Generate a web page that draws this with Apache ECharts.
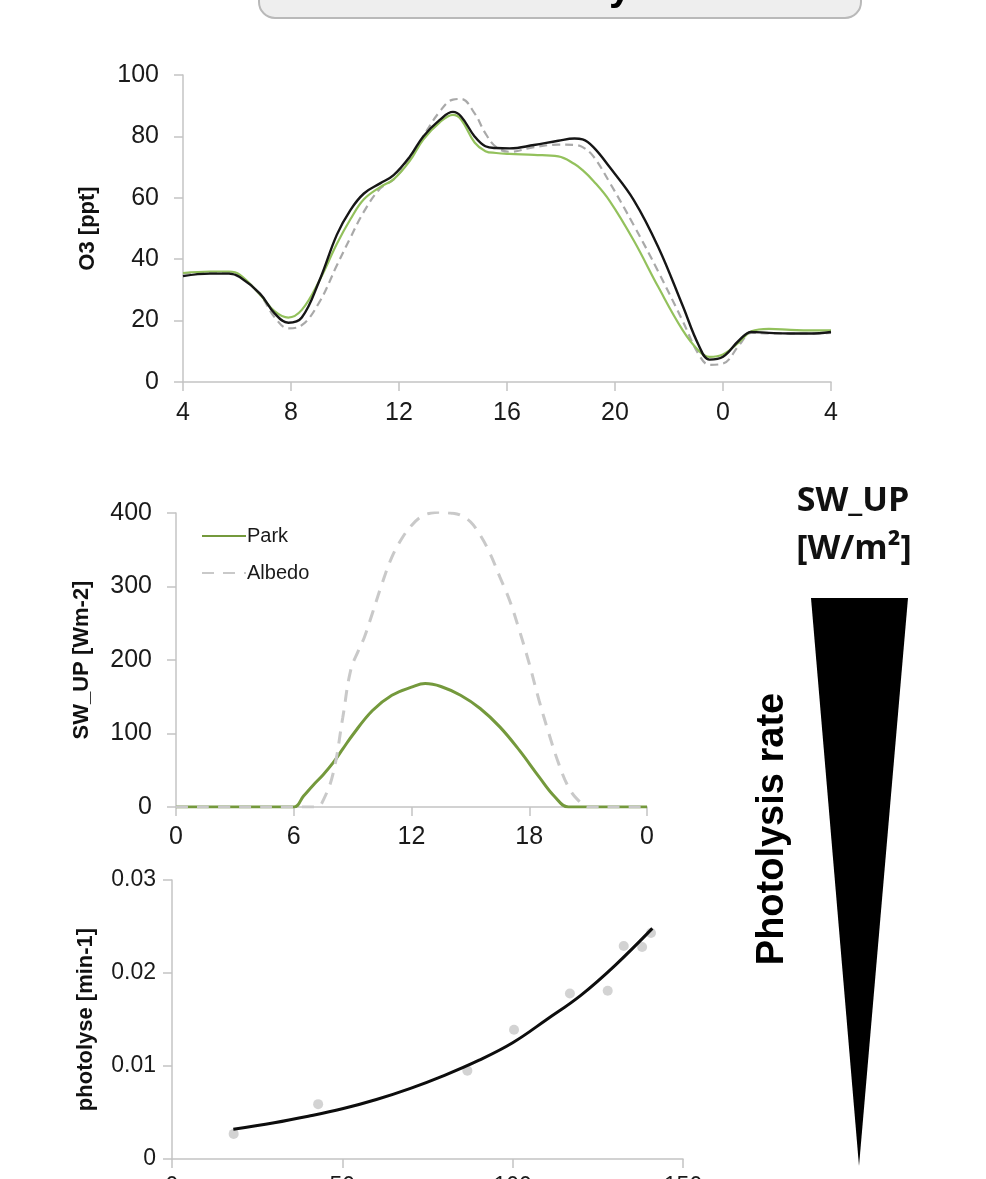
<!DOCTYPE html>
<html>
<head>
<meta charset="utf-8">
<style>
html,body{margin:0;padding:0;background:#fff;}
#chart{width:986px;height:1179px;}
</style>
<script src="https://cdn.jsdelivr.net/npm/echarts@6/dist/echarts.min.js"></script>
</head>
<body>
<div id="chart"></div>
<script>
// ---- Panel 1: O3 diurnal cycle (hours 4 .. 28 = 4 next day)
const o3Hours = [4,5,5.7,6.1,6.85,7.4,7.9,8.4,9.05,9.7,10.2,10.7,11.3,11.8,12.4,12.9,13.5,14.0,14.3,14.8,15.2,15.6,16.1,17.0,17.9,18.5,18.8,19.2,19.8,20.7,21.6,22.5,23.1,23.5,24.0,24.6,25.05,25.7,26.5,27.2,28];
const o3Black = [34.5,35.3,35.3,34.2,28.8,22.3,19.3,21,33,48,56,61.4,64.7,67.4,73.4,80,85.3,88,86.5,80,76.8,76.2,76.1,77.2,78.6,79.3,79,76.5,70,59.2,44,25,12,7.3,8.2,13.6,16.3,16,15.8,15.8,16.3];
const o3Green = [35.5,36,36,35,28.5,23,21,23.5,33,45,53,59.5,63.5,66,72,79,84.5,87,85.5,78,75.2,74.6,74.3,74,73.5,71,69,65.5,59,46,31,17,10.2,8.2,9,13,16.5,17.3,17,16.8,16.8];
const o3Gray  = [35.4,35.5,35.5,34.5,28.5,21,17.5,18.5,26,38,47,55.5,63,66,72.5,80,88,92,92.2,87.5,81,76.5,75,76.5,77.3,77.2,76.5,73.5,65,51,36,20,9,5.6,6,12,16,15.8,15.8,15.8,16];
const o3XTicks = [4,8,12,16,20,0,4];

// ---- Panel 2: SW_UP
const parkHours = [0,3,6,6.5,7,7.5,8,8.5,9,10,11,12,12.7,13.5,14.5,15.5,16.5,17.5,18.5,19.3,20,22,24];
const parkValues = [0,0,0,15,30,44,60,79,98,131,152,163,168,164,152,134,109,77,41,14,0,0,0];
const albedoHours = [0,3,6.5,7.2,7.5,8,8.5,8.9,9.3,9.6,10,10.5,11,11.5,12,12.5,13,13.5,14,14.5,15,15.5,16,16.5,17,17.5,18,18.5,19,19.5,20,20.5,21,22.5,24];
const albedoValues = [0,0,0,0,9,45,122,186,213,231,263,304,340,365,383,395,400,401,400,397,388,370,345,313,281,240,195,145,100,59,27,9,0,0,0];
const swXTicks = [0,6,12,18,0];

// ---- Panel 3: photolysis vs SW_UP
const photoX = [18.1,42.9,86.7,100.4,116.8,127.9,132.6,138.0,140.6];
const photoY = [0.0027,0.0059,0.0095,0.0139,0.0178,0.0181,0.0229,0.0228,0.0243];
const fitX = [18,30,40,50,60,70,80,90,100,110,120,130,141];
const fitY = [0.0032,0.0039,0.0046,0.0054,0.0064,0.0076,0.0090,0.0106,0.0125,0.0150,0.0176,0.0208,0.0248];

const pairs = (xs, ys) => xs.map((x, i) => [x, ys[i]]);

const AX = '#c4c4c4';
const FONT = 'Liberation Sans';
function xAxisCfg(gi, min, max, interval, fmt, fs, margin) {
  return {
    type: 'value', gridIndex: gi, min: min, max: max, interval: interval,
    axisLine: {show: true, onZero: false, lineStyle: {color: AX, width: 1.5}},
    axisTick: {show: true, length: 9, lineStyle: {color: AX, width: 1.5}},
    splitLine: {show: false},
    axisLabel: {fontFamily: FONT, fontSize: fs, color: '#1a1a1a', margin: margin, formatter: fmt}
  };
}
function yAxisCfg(gi, min, max, interval, name, gap, fs, margin, fmt) {
  return {
    type: 'value', gridIndex: gi, min: min, max: max, interval: interval,
    name: name, nameLocation: 'middle', nameRotate: 90, nameGap: gap,
    nameTextStyle: {fontFamily: FONT, fontWeight: 'bold', fontSize: 22, color: '#111'},
    axisLine: {show: true, lineStyle: {color: AX, width: 1.5}},
    axisTick: {show: true, length: 9, lineStyle: {color: AX, width: 1.5}},
    splitLine: {show: false},
    axisLabel: {fontFamily: FONT, fontSize: fs, color: '#1a1a1a', margin: margin, formatter: fmt}
  };
}

const chart = echarts.init(document.getElementById('chart'), null, {renderer: 'canvas'});
const option = {
  animation: false,
  backgroundColor: '#ffffff',
  grid: [
    {left: 183, right: 155, top: 75, bottom: 797, outerBoundsMode: 'none', containLabel: false},
    {left: 176, right: 339, top: 513, bottom: 372, outerBoundsMode: 'none', containLabel: false},
    {left: 172, right: 303, top: 880, bottom: 20, outerBoundsMode: 'none', containLabel: false}
  ],
  xAxis: [
    xAxisCfg(0, 4, 28, 4, v => String(o3XTicks[Math.round((v - 4) / 4)]), 25, 19),
    xAxisCfg(1, 0, 24, 6, v => String(swXTicks[Math.round(v / 6)]), 25, 18),
    xAxisCfg(2, 0, 150, 50, v => String(v), 23, 16)
  ],
  yAxis: [
    yAxisCfg(0, 0, 100, 20, 'O3 [ppt]', 84, 25, 24, v => String(v)),
    yAxisCfg(1, 0, 400, 100, 'SW_UP [Wm-2]', 83, 25, 24, v => String(v)),
    yAxisCfg(2, 0, 0.03, 0.01, 'photolyse [min-1]', 75, 23, 16, v => v === 0 ? '0' : v.toFixed(2))
  ],
  legend: {
    left: 196, top: 521, orient: 'vertical', itemWidth: 44, itemHeight: 14, itemGap: 17,
    itemStyle: {color: 'rgba(0,0,0,0)', borderWidth: 0, opacity: 0},
    textStyle: {fontFamily: FONT, fontSize: 20, color: '#1a1a1a', padding: [0, 0, 0, -4]},
    data: ['Park', 'Albedo']
  },
  series: [
    {name: 'O3 green', type: 'line', xAxisIndex: 0, yAxisIndex: 0, data: pairs(o3Hours, o3Green),
     smooth: 0.4, symbol: 'none', lineStyle: {color: '#93c15c', width: 2.2}, z: 3},
    {name: 'O3 albedo', type: 'line', xAxisIndex: 0, yAxisIndex: 0, data: pairs(o3Hours, o3Gray),
     smooth: 0.4, symbol: 'none', lineStyle: {color: '#a9a9a9', width: 2.2, type: [8, 5]}, z: 2},
    {name: 'O3 base', type: 'line', xAxisIndex: 0, yAxisIndex: 0, data: pairs(o3Hours, o3Black),
     smooth: 0.4, symbol: 'none', lineStyle: {color: '#161616', width: 2.4}, z: 4},
    {name: 'Park', type: 'line', xAxisIndex: 1, yAxisIndex: 1, data: pairs(parkHours, parkValues),
     smooth: 0.4, symbol: 'none', color: '#74993c', lineStyle: {color: '#74993c', width: 3}, z: 3},
    {name: 'Albedo', type: 'line', xAxisIndex: 1, yAxisIndex: 1, data: pairs(albedoHours, albedoValues),
     smooth: 0.4, symbol: 'none', color: '#c9c9c9', lineStyle: {color: '#c9c9c9', width: 3, type: [12, 9]}, z: 4},
    {name: 'Photolysis obs', type: 'scatter', xAxisIndex: 2, yAxisIndex: 2, data: pairs(photoX, photoY),
     symbol: 'circle', symbolSize: 10, itemStyle: {color: '#c8c8c8'}, z: 2},
    {name: 'Photolysis fit', type: 'line', xAxisIndex: 2, yAxisIndex: 2, data: pairs(fitX, fitY),
     smooth: 0.4, symbol: 'none', lineStyle: {color: '#0d0d0d', width: 3}, z: 3}
  ],
  graphic: [
    {type: 'rect', shape: {x: 259, y: -40, width: 602, height: 58, r: 16},
     style: {fill: '#eeeeee', stroke: '#b9b9b9', lineWidth: 2}, z: 1},
    {type: 'text', x: 620, y: 9, style: {text: 'y', fontFamily: FONT, fontWeight: 'bold', fontSize: 40,
     fill: '#000', align: 'center', verticalAlign: 'bottom'}, z: 2},
    {type: 'text', x: 853, y: 501, style: {text: 'SW_UP', fontFamily: 'Open Sans', fontWeight: 'bold', fontSize: 34,
     fill: '#111', align: 'center', verticalAlign: 'middle'}},
    {type: 'text', x: 854, y: 549, style: {text: '[W/m²]', fontFamily: 'Open Sans', fontWeight: 'bold', fontSize: 34,
     fill: '#111', align: 'center', verticalAlign: 'middle'}},
    {type: 'polygon', shape: {points: [[811, 598], [908, 598], [859, 1166]]}, style: {fill: '#000'}},
    {type: 'text', x: 773, y: 829, rotation: Math.PI / 2, style: {text: 'Photolysis rate', fontFamily: FONT,
     fontWeight: 'bold', fontSize: 38, fill: '#000', align: 'center', verticalAlign: 'middle'}}
  ]
};
chart.setOption(option);
</script>
</body>
</html>
